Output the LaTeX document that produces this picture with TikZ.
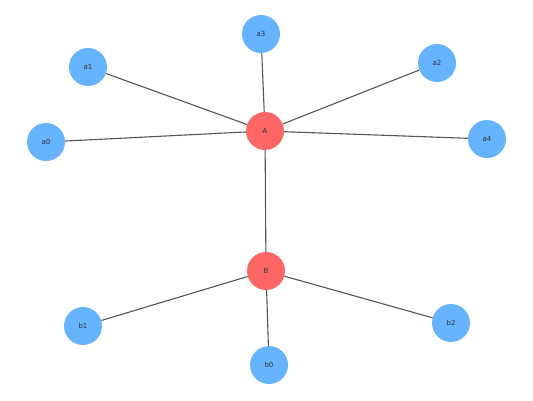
\documentclass[tikz,border=0pt]{standalone}
\usepackage{fontspec}
\setmainfont{DejaVu Sans}
\definecolor{leafblue}{HTML}{66B3FF}
\definecolor{hubred}{HTML}{FF6666}
\definecolor{edgegray}{HTML}{555555}
\definecolor{labelgray}{HTML}{333333}
\begin{document}
\begin{tikzpicture}[x=1pt,y=-1pt,
  leaf/.style={circle,fill=leafblue,minimum size=38pt,inner sep=0pt,font=\fontsize{7}{8}\selectfont,text=labelgray},
  hub/.style={circle,fill=hubred,minimum size=38pt,inner sep=0pt,font=\fontsize{7}{8}\selectfont,text=labelgray},
  link/.style={draw=edgegray,line width=1.1pt}]
\useasboundingbox (0,0) rectangle (533,400);
\node[hub] (A) at (265,131) {A};
\node[hub] (B) at (266,271) {B};
\node[leaf] (a3) at (261,34) {a3};
\node[leaf] (a1) at (88,67) {a1};
\node[leaf] (a2) at (437,63) {a2};
\node[leaf] (a0) at (46,142) {a0};
\node[leaf] (a4) at (487,139) {a4};
\node[leaf] (b1) at (83,326) {b1};
\node[leaf] (b0) at (269,365) {b0};
\node[leaf] (b2) at (451,323) {b2};
\foreach \n in {a0,a1,a2,a3,a4,B} \draw[link] (A) -- (\n);
\foreach \n in {b0,b1,b2} \draw[link] (B) -- (\n);
\end{tikzpicture}
\end{document}
